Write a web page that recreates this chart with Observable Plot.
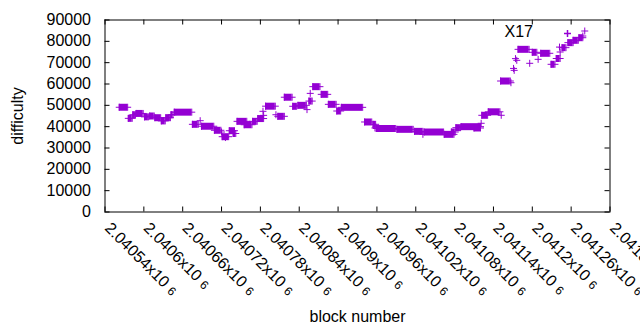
<!DOCTYPE html>
<html><head><meta charset="utf-8">
<script src="https://cdn.jsdelivr.net/npm/d3@7"></script>
<script src="https://cdn.jsdelivr.net/npm/@observablehq/plot@0.6"></script>
<style>
html,body{margin:0;padding:0;background:#fff;overflow:hidden;}
</style></head><body><div id="chart"></div>
<script>
// ---- data ----
const seriesName = "X17";
const xTitle = "block number";
const yTitle = "difficulty";
const xTicks = [2040540, 2040600, 2040660, 2040720, 2040780, 2040840, 2040900, 2040960, 2041020, 2041080, 2041140, 2041200, 2041260, 2041320];
const xTickLabels = ["2.04054", "2.0406", "2.04066", "2.04072", "2.04078", "2.04084", "2.0409", "2.04096", "2.04102", "2.04108", "2.04114", "2.0412", "2.04126", "2.04132"];
const xTickExponent = "6";
const yTicks = [0, 10000, 20000, 30000, 40000, 50000, 60000, 70000, 80000, 90000];
const yTickLabels = ["0", "10000", "20000", "30000", "40000", "50000", "60000", "70000", "80000", "90000"];

// runs of consecutive blocks at (nearly) the same difficulty
const runStart = [2040562, 2040576, 2040583, 2040588, 2040601, 2040609, 2040617, 2040627, 2040634, 2040642, 2040647, 2040675, 2040689, 2040709, 2040721, 2040732, 2040738, 2040744, 2040755, 2040768, 2040776, 2040788, 2040807, 2040817, 2040830, 2040838, 2040855, 2040861, 2040874, 2040885, 2040898, 2040905, 2040941, 2040954, 2040959, 2040991, 2041018, 2041033, 2041064, 2041075, 2041082, 2041090, 2041110, 2041122, 2041132, 2041151, 2041178, 2041200, 2041213, 2041229, 2041237, 2041246, 2041255, 2041263, 2041272];
const runEnd = [2040575, 2040582, 2040587, 2040599, 2040607, 2040616, 2040626, 2040633, 2040641, 2040645, 2040674, 2040684, 2040708, 2040719, 2040731, 2040740, 2040742, 2040759, 2040767, 2040775, 2040785, 2040803, 2040817, 2040829, 2040836, 2040851, 2040860, 2040872, 2040884, 2040897, 2040904, 2040938, 2040952, 2040958, 2040989, 2041016, 2041031, 2041063, 2041079, 2041081, 2041089, 2041120, 2041120, 2041131, 2041150, 2041166, 2041195, 2041207, 2041227, 2041235, 2041243, 2041252, 2041263, 2041271, 2041278];
const runDifficulty = [49100, 43900, 45600, 46200, 44600, 45000, 44200, 42700, 44200, 45600, 46800, 41100, 40200, 38300, 35300, 38100, 36800, 42500, 40900, 42500, 43800, 49600, 44850, 53800, 49550, 50000, 52000, 58750, 55150, 50470, 47340, 49060, 42200, 41100, 39140, 38750, 37800, 37500, 36400, 37500, 39530, 40000, 39380, 45330, 46970, 61400, 76250, 74860, 74390, 69230, 71950, 77030, 79380, 80480, 81700];

// isolated blocks
const pointBlock = [2040687, 2040720, 2040726, 2040784, 2040785, 2040804, 2040852, 2040857, 2040957, 2041031, 2041121, 2041152, 2041167, 2041171, 2041172, 2041174, 2041176, 2041196, 2041209, 2041242, 2041243, 2041278, 2041281];
const pointDifficulty = [42800, 37500, 34900, 47200, 45300, 45600, 48000, 55600, 39400, 36400, 41580, 45330, 60600, 67300, 66400, 71900, 71100, 69700, 71560, 77300, 75000, 82500, 84840];

// ---- chart ----
const color = "#9400d3";
const font = "'Liberation Sans', Arial, sans-serif";
const plus = {draw(ctx, size) {const r = Math.sqrt(size / Math.PI); ctx.moveTo(-r, 0); ctx.lineTo(r, 0); ctx.moveTo(0, -r); ctx.lineTo(0, r);}};

const runs = runStart.map((s, i) => ({s, e: runEnd[i], d: runDifficulty[i]}));
const runEnds = runs.flatMap(r => [{b: r.s, d: r.d}, {b: r.e, d: r.d}]);
const points = pointBlock.map((b, i) => ({b, d: pointDifficulty[i]}));

const svg = Plot.plot({
  width: 640, height: 330,
  marginLeft: 104.5, marginRight: 30.5, marginTop: 19.5, marginBottom: 118.5,
  style: {fontFamily: font, fontSize: "16px", background: "white", color: "black", overflow: "hidden"},
  x: {domain: [xTicks[0], xTicks[xTicks.length - 1]], axis: null},
  y: {domain: [yTicks[0], yTicks[yTicks.length - 1]], axis: null},
  marks: [
    Plot.ruleY(runs, {y: "d", x1: "s", x2: "e", stroke: color, strokeWidth: 7}),
    Plot.dot(runEnds, {x: "b", y: "d", symbol: plus, r: 3.5, stroke: color, fill: "none", strokeWidth: 1}),
    Plot.dot(points, {x: "b", y: "d", symbol: plus, r: 3.5, stroke: color, fill: "none", strokeWidth: 1}),
    Plot.frame({stroke: "black", strokeWidth: 1}),
    Plot.tickX(xTicks, {x: d => d, insetTop: 187, stroke: "black"}),
    Plot.tickX(xTicks, {x: d => d, insetBottom: 187, stroke: "black"}),
    Plot.tickY(yTicks, {y: d => d, insetRight: 500, stroke: "black"}),
    Plot.tickY(yTicks, {y: d => d, insetLeft: 500, stroke: "black"}),
    Plot.text(yTicks, {y: d => d, text: (d, i) => yTickLabels[i], frameAnchor: "left", textAnchor: "end", lineAnchor: "middle", dx: -14, fill: "black", fontSize: 16}),
    Plot.text(xTicks, {x: d => d, text: (d, i) => xTickLabels[i] + "x10", frameAnchor: "bottom", textAnchor: "start", lineAnchor: "middle", rotate: 45, dx: 2.5, dy: 13.5, fill: "black", fontSize: 16}),
    Plot.text([yTitle], {frameAnchor: "left", rotate: -90, textAnchor: "middle", lineAnchor: "middle", dx: -87.5, fill: "black", fontSize: 16}),
    Plot.text([xTitle], {frameAnchor: "bottom", textAnchor: "middle", lineAnchor: "middle", dy: 104.5, fill: "black", fontSize: 16}),
    Plot.text([seriesName], {frameAnchor: "top-right", textAnchor: "end", lineAnchor: "middle", dx: -77, dy: 12, fill: "black", fontSize: 16}),
    Plot.dot([seriesName], {frameAnchor: "top-right", dx: -42.5, dy: 13.5, symbol: plus, r: 3.5, stroke: color, fill: "none"})
  ]
});

d3.select(svg).selectAll("text").each(function () {
  const t = this.textContent;
  if (!t.endsWith("x10")) return;
  this.textContent = "";
  const s = d3.select(this);
  s.append("tspan").text(t);
  s.append("tspan").attr("dx", 5).attr("font-size", 12).text(xTickExponent);
});

document.getElementById("chart").appendChild(svg);
</script>
</body></html>
